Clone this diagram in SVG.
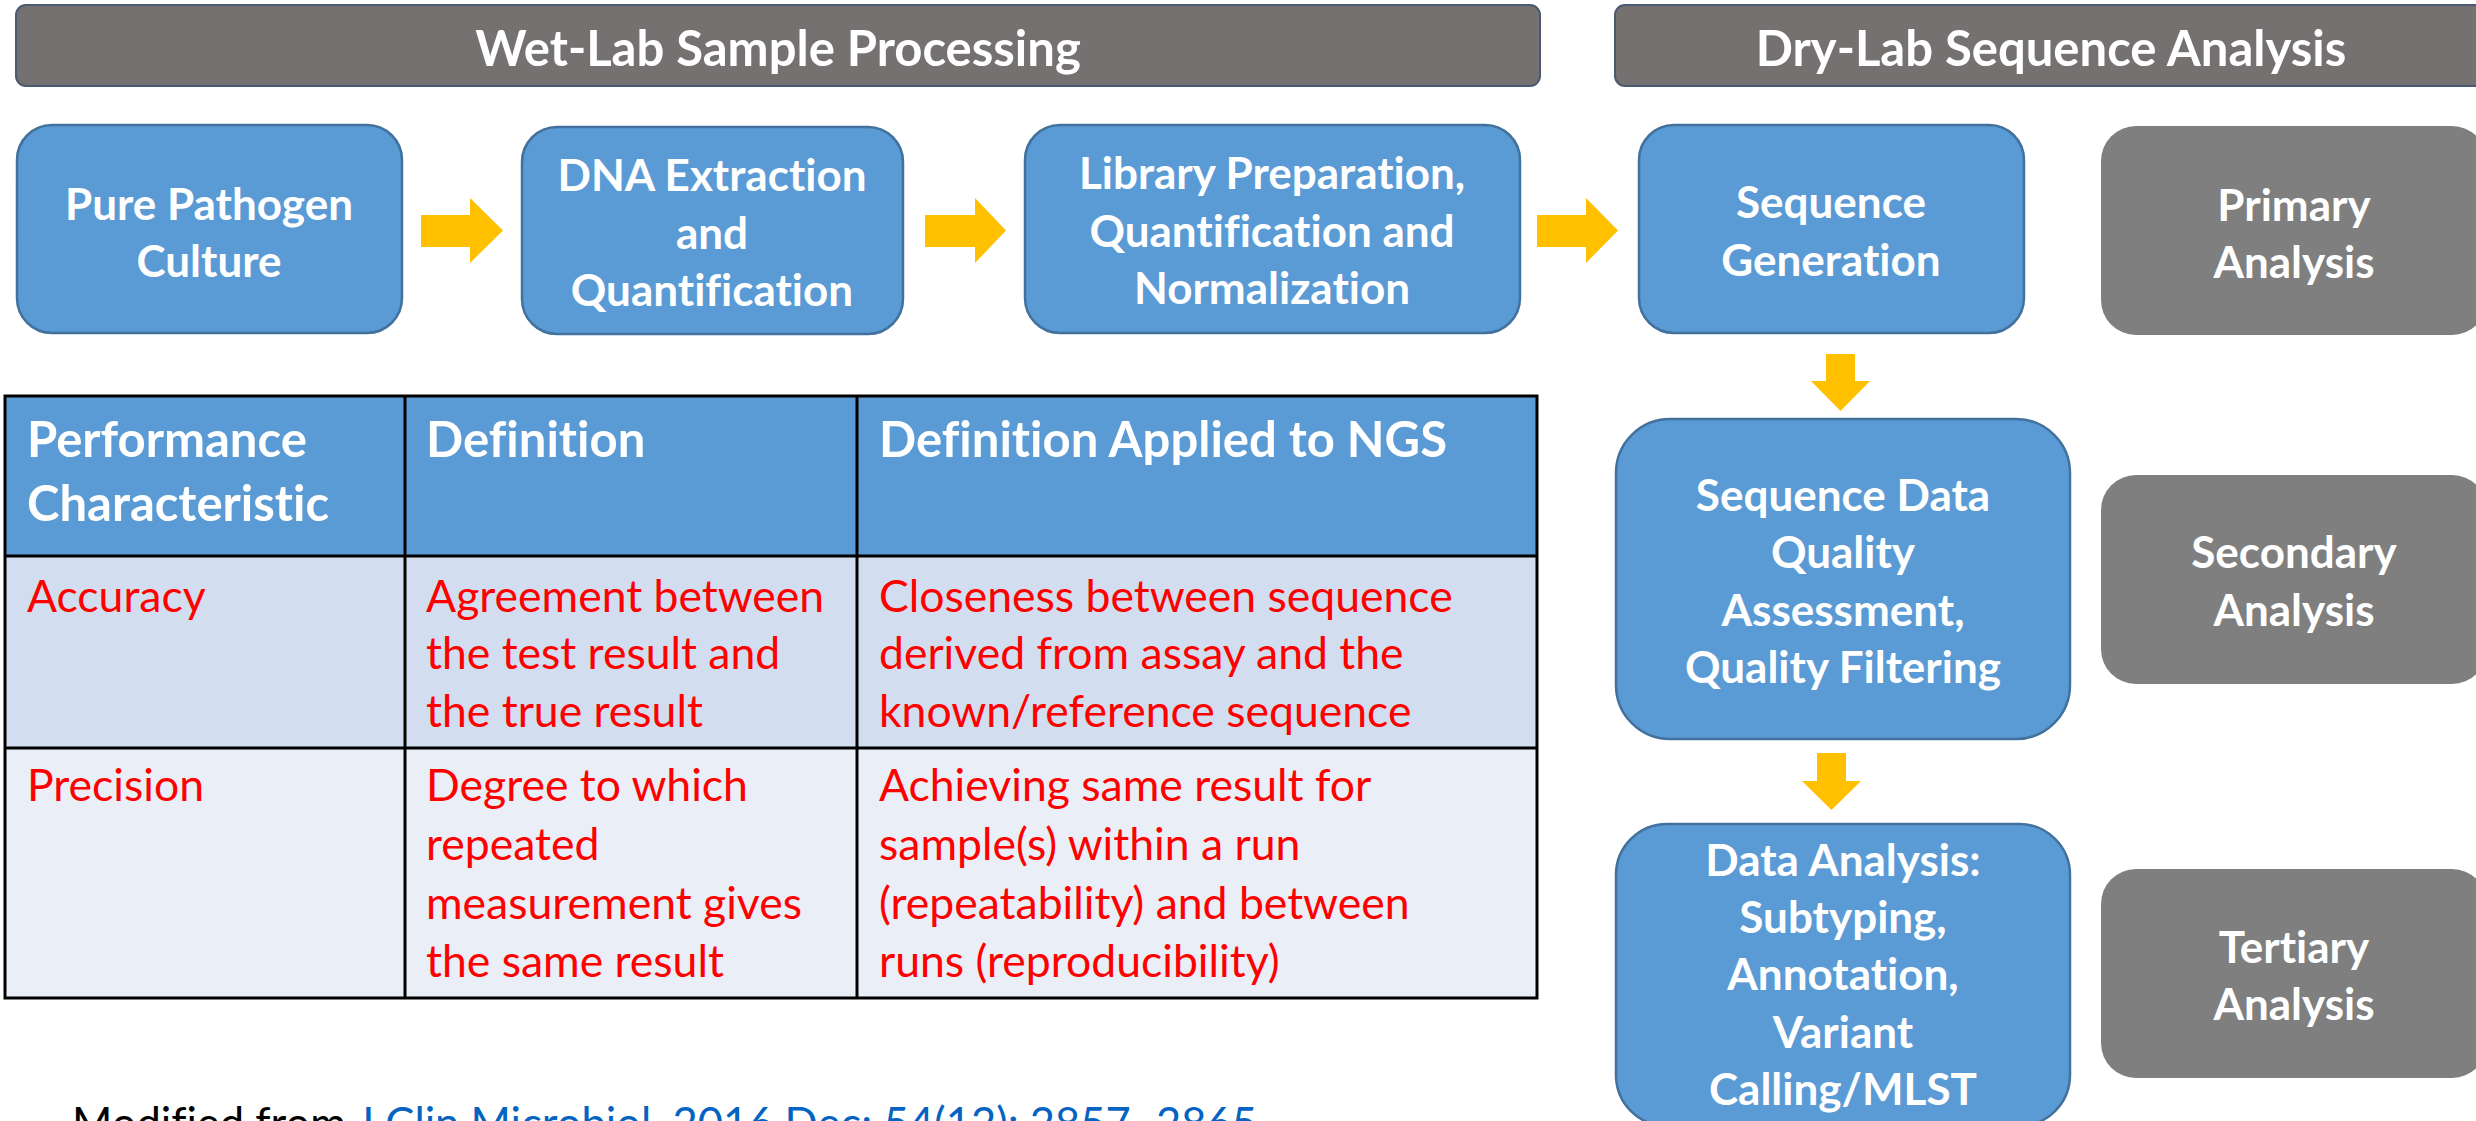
<svg xmlns="http://www.w3.org/2000/svg" width="2476" height="1121" viewBox="0 0 2476 1121">
  <style>
    text { font-family: Lato, "Liberation Sans", sans-serif; font-variant-ligatures: none; font-feature-settings: "liga" 0, "clig" 0; }
    .hdr { fill: #767171; stroke: #4A5A70; stroke-width: 2; }
    .hdr-t { font-weight: bold; font-size: 49px; fill: #FFFFFF; text-anchor: middle; }
    .step { fill: #5B9BD5; stroke: #41719C; stroke-width: 2.5; }
    .stage { fill: #7F7F7F; }
    .lbl { font-weight: bold; font-size: 44px; fill: #FFFFFF; text-anchor: middle; }
    .arrow { fill: #FFC000; }
    .th { font-weight: bold; font-size: 49px; fill: #FFFFFF; }
    .td { font-size: 44.5px; fill: #FF0000; }
    .grid { stroke: #000000; stroke-width: 3; fill: none; }
    .note { font-size: 43.5px; fill: #000000; }
    .link { fill: #0563C1; }
  </style>

  <rect width="2476" height="1121" fill="#FFFFFF"/>

  <!-- section headers -->
  <g id="hdr-wetlab">
    <rect class="hdr" x="16" y="5" width="1524" height="81" rx="10"/>
    <text class="hdr-t" x="778" y="66">Wet-Lab Sample Processing</text>
  </g>
  <g id="hdr-drylab">
    <rect class="hdr" x="1615" y="5" width="880" height="81" rx="10"/>
    <text class="hdr-t" x="2051" y="66">Dry-Lab Sequence Analysis</text>
  </g>

  <!-- wet-lab steps -->
  <g id="pure-culture">
    <rect class="step" x="17" y="125" width="385" height="208" rx="35"/>
    <text class="lbl" x="209" y="220">Pure Pathogen</text>
    <text class="lbl" x="209" y="277">Culture</text>
  </g>
  <g id="dna-extraction">
    <rect class="step" x="522" y="127" width="381" height="207" rx="35"/>
    <text class="lbl" x="712" y="191">DNA Extraction</text>
    <text class="lbl" x="712" y="249">and</text>
    <text class="lbl" x="712" y="306">Quantification</text>
  </g>
  <g id="library-prep">
    <rect class="step" x="1025" y="125" width="495" height="208" rx="35"/>
    <text class="lbl" x="1272" y="189">Library Preparation,</text>
    <text class="lbl" x="1272" y="247">Quantification and</text>
    <text class="lbl" x="1272" y="304">Normalization</text>
  </g>

  <!-- dry-lab steps -->
  <g id="sequence-generation">
    <rect class="step" x="1639" y="125" width="385" height="208" rx="35"/>
    <text class="lbl" x="1831" y="218">Sequence</text>
    <text class="lbl" x="1831" y="276">Generation</text>
  </g>
  <g id="quality-assessment">
    <rect class="step" x="1616" y="419" width="454" height="320" rx="54"/>
    <text class="lbl" x="1843" y="511">Sequence Data</text>
    <text class="lbl" x="1843" y="568">Quality</text>
    <text class="lbl" x="1843" y="626">Assessment,</text>
    <text class="lbl" x="1843" y="683">Quality Filtering</text>
  </g>
  <g id="data-analysis">
    <rect class="step" x="1616" y="824" width="454" height="302" rx="51"/>
    <text class="lbl" x="1843" y="876">Data Analysis:</text>
    <text class="lbl" x="1843" y="933">Subtyping,</text>
    <text class="lbl" x="1843" y="990">Annotation,</text>
    <text class="lbl" x="1843" y="1048">Variant</text>
    <text class="lbl" x="1843" y="1105">Calling/MLST</text>
  </g>

  <!-- analysis stages -->
  <g id="primary-analysis">
    <rect class="stage" x="2101" y="126" width="386" height="209" rx="35"/>
    <text class="lbl" x="2294" y="221">Primary</text>
    <text class="lbl" x="2294" y="278">Analysis</text>
  </g>
  <g id="secondary-analysis">
    <rect class="stage" x="2101" y="475" width="386" height="209" rx="35"/>
    <text class="lbl" x="2294" y="568">Secondary</text>
    <text class="lbl" x="2294" y="626">Analysis</text>
  </g>
  <g id="tertiary-analysis">
    <rect class="stage" x="2101" y="869" width="386" height="209" rx="35"/>
    <text class="lbl" x="2294" y="963">Tertiary</text>
    <text class="lbl" x="2294" y="1020">Analysis</text>
  </g>

  <!-- flow arrows -->
  <g id="connectors">
    <polygon class="arrow" points="421,215 470,215 470,198 503,230.5 470,263 470,247 421,247"/>
    <polygon class="arrow" points="925,215 975,215 975,198 1006,230.5 975,263 975,247 925,247"/>
    <polygon class="arrow" points="1537,215 1586,215 1586,198 1618,230.5 1586,263 1586,247 1537,247"/>
    <polygon class="arrow" points="1826,354 1855,354 1855,381 1870,381 1840.5,411 1811,381 1826,381"/>
    <polygon class="arrow" points="1817,753 1846,753 1846,781 1861,781 1831.5,810 1802,781 1817,781"/>
  </g>

  <!-- performance characteristics table -->
  <g id="perf-table">
    <rect x="5" y="396" width="1532" height="160" fill="#5B9BD5"/>
    <rect x="5" y="556" width="1532" height="192" fill="#D2DEEF"/>
    <rect x="5" y="748" width="1532" height="250" fill="#E9EEF7"/>
    <rect class="grid" x="5" y="396" width="1532" height="602"/>
    <line class="grid" x1="5" y1="556" x2="1537" y2="556"/>
    <line class="grid" x1="5" y1="748" x2="1537" y2="748"/>
    <line class="grid" x1="405" y1="396" x2="405" y2="998"/>
    <line class="grid" x1="857" y1="396" x2="857" y2="998"/>

    <text class="th" x="27" y="457">Performance</text>
    <text class="th" x="27" y="521">Characteristic</text>
    <text class="th" x="426" y="457">Definition</text>
    <text class="th" x="879" y="457">Definition Applied to NGS</text>

    <text class="td" x="27" y="612">Accuracy</text>
    <text class="td" x="426" y="612">Agreement between</text>
    <text class="td" x="426" y="669">the test result and</text>
    <text class="td" x="426" y="727">the true result</text>
    <text class="td" x="879" y="612">Closeness between sequence</text>
    <text class="td" x="879" y="669">derived from assay and the</text>
    <text class="td" x="879" y="727">known/reference sequence</text>

    <text class="td" x="27" y="801">Precision</text>
    <text class="td" x="426" y="801">Degree to which</text>
    <text class="td" x="426" y="860">repeated</text>
    <text class="td" x="426" y="919">measurement gives</text>
    <text class="td" x="426" y="977">the same result</text>
    <text class="td" x="879" y="801">Achieving same result for</text>
    <text class="td" x="879" y="860">sample(s) within a run</text>
    <text class="td" x="879" y="919">(repeatability) and between</text>
    <text class="td" x="879" y="977">runs (reproducibility)</text>
  </g>

  <!-- source note -->
  <g id="source-note">
    <text class="note" x="72" y="1139">Modified from <tspan class="link">J Clin Microbiol. 2016 Dec; 54(12): 2857–2865.</tspan></text>
  </g>
</svg>
